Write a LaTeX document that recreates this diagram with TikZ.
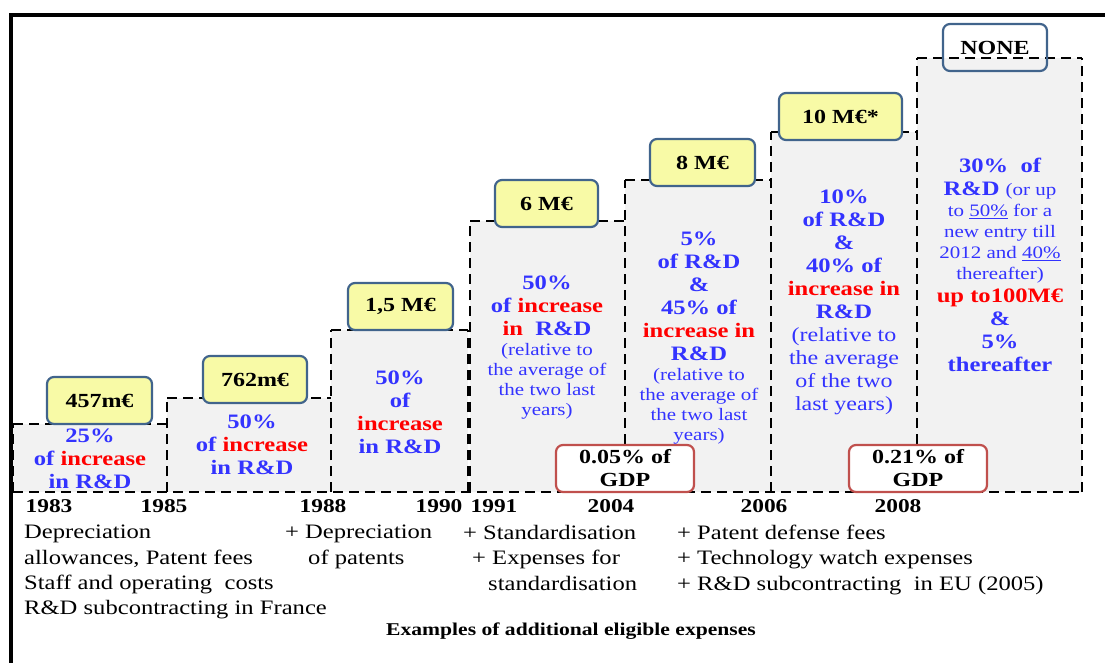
\documentclass[tikz,border=0pt]{standalone}
\usepackage{fontspec}
\setmainfont{Liberation Serif}[FakeStretch=1.2]
\definecolor{rateblue}{RGB}{51,51,255}
\definecolor{incred}{RGB}{255,0,0}
\definecolor{capfill}{RGB}{248,250,166}
\definecolor{capedge}{RGB}{65,100,140}
\definecolor{gdpedge}{RGB}{192,80,77}
\newcommand\inc[1]{\textcolor{incred}{#1}}
\newcommand\relnote{\mdseries\fontsize{17.5}{20}\selectfont}
\edef\base{492}

\tikzset{
  baredge/.style={draw=black, line width=2.4pt, dash pattern=on 10pt off 6pt},
  capbox/.style={draw=capedge, fill=capfill, line width=2.2pt, rounded corners=7pt,
    minimum height=47pt, inner sep=0pt, font=\bfseries\fontsize{20}{22}\selectfont},
  gdpbox/.style={draw=gdpedge, fill=white, line width=2.2pt, rounded corners=7pt,
    minimum width=138pt, minimum height=47pt, inner sep=0pt, align=center,
    font=\bfseries\fontsize{20}{23}\selectfont},
  year/.style={font=\bfseries\fontsize{19.5}{22}\selectfont},
  rate/.style={text=rateblue, align=center, inner sep=0pt,
    font=\bfseries\fontsize{20.5}{23}\selectfont},
  expense/.style={anchor=north west, align=left, inner sep=0pt,
    font=\fontsize{20.5}{25.3}\selectfont},
}

\begin{document}
\begin{tikzpicture}[x=1pt, y=-1pt]
  \useasboundingbox (0,0) rectangle (1105,663);

  % frame
  \draw[line width=4pt] (10.5,663) -- (10.5,15) -- (1105,15);

  % the bars
  \foreach \xa/\xb/\t in {13/167/424, 167/331/398, 331/468/330, 470/625/221,
                          625/771/180, 771/917/132, 917/1082/58}
    \fill[black!5] (\xa,\t) rectangle (\xb,\base);
  \foreach \x/\t in {13/424, 167/398, 331/330, 468/330, 470/221, 625/180,
                     771/132, 917/58, 1082/58}
    \draw[baredge] (\x,\base) -- (\x,\t);
  \foreach \xa/\xb/\t in {13/167/424, 167/331/398, 331/468/330, 470/625/221,
                          625/771/180, 771/917/132, 917/1082/58}
    \draw[baredge] (\xa,\t) -- (\xb,\t);
  \draw[baredge] (13,\base) -- (1082,\base);

  % ceilings
  \node[capbox, minimum width=105pt] (cap1) at (99.5,400.5) {457m€};
  \node[capbox, minimum width=104pt] (cap2) at (255,379.5) {762m€};
  \node[capbox, minimum width=105pt] (cap3) at (400.5,306.5) {1,5 M€};
  \node[capbox, minimum width=103pt] (cap4) at (546.5,203.5) {6 M€};
  \node[capbox, minimum width=105pt] (cap5) at (702.5,162.5) {8 M€};
  \node[capbox, minimum width=123pt] (cap6) at (840.5,116.5) {10 M€*};
  \node[capbox, fill=none, minimum width=104pt] (cap7) at (995,47.5) {NONE};

  % share of GDP
  \node[gdpbox] (gdp1) at (625,468.5) {0.05\% of\\GDP};
  \node[gdpbox] (gdp2) at (918,468.5) {0.21\% of\\GDP};

  % rates
  \node[rate] (r1) at (90,459) {25\%\\of \inc{increase}\\in R\&D};
  \node[rate] (r2) at (252,445) {50\%\\of \inc{increase}\\in R\&D};
  \node[rate] (r3) at (400,412) {50\%\\of\\\inc{increase}\\in R\&D};
  \node[rate] (r4) at (547,348) {50\%\\of \inc{increase}\\\inc{in}\ \ R\&D\\[-3pt]
    \relnote (relative to\\[-3pt]\relnote the average of\\[-3pt]
    \relnote the two last\\[-3pt]\relnote years)};
  \node[rate] (r5) at (699,338.5) {5\%\\of R\&D\\\&\\45\% of\\\inc{increase in}\\R\&D\\[-3pt]
    \relnote (relative to\\[-3pt]\relnote the average of\\[-3pt]
    \relnote the two last\\[-3pt]\relnote years)};
  \node[rate] (r6) at (844,302) {10\%\\of R\&D\\\&\\40\% of\\\inc{increase in}\\R\&D\\
    \mdseries\fontsize{20}{23}\selectfont (relative to\\
    \mdseries\fontsize{20}{23}\selectfont the average\\
    \mdseries\fontsize{20}{23}\selectfont of the two\\
    \mdseries\fontsize{20}{23}\selectfont last years)};
  \node[rate] (r7) at (1000,264.5) {30\%~~of\\R\&D {\relnote (or up}\\[-2pt]
    \relnote to \underline{50\%} for a\\[-2pt]\relnote new entry till\\[-2pt]
    \relnote 2012 and \underline{40\%}\\[-2pt]\relnote thereafter)\\
    \inc{up to100M€}\\\&\\5\%\\thereafter};

  % years
  \foreach \x/\yr in {49/1983, 164/1985, 323/1988, 439/1990, 494/1991,
                      611/2004, 764/2006, 898/2008}
    \node[year] (y\yr) at (\x,506) {\yr};

  % eligible expenses
  \node[expense] (e1) at (24,525) {Depreciation\\allowances, Patent fees\\
    Staff and operating\ \ costs\\R\&D subcontracting in France};
  \node[expense] (e2) at (285,525) {+ Depreciation\\\hspace*{23pt}of patents};
  \node[expense] (e3) at (463,525) {+ Standardisation\\\hspace*{9pt}+ Expenses for\\
    \hspace*{25pt}standardisation};
  \node[expense] (e4) at (677,525) {+ Patent defense fees\\+ Technology watch expenses\\
    + R\&D subcontracting\ \ in EU (2005)};
  \node[font=\bfseries\fontsize{18}{21}\selectfont] (title) at (571,631)
    {Examples of additional eligible expenses};
\end{tikzpicture}
\end{document}
